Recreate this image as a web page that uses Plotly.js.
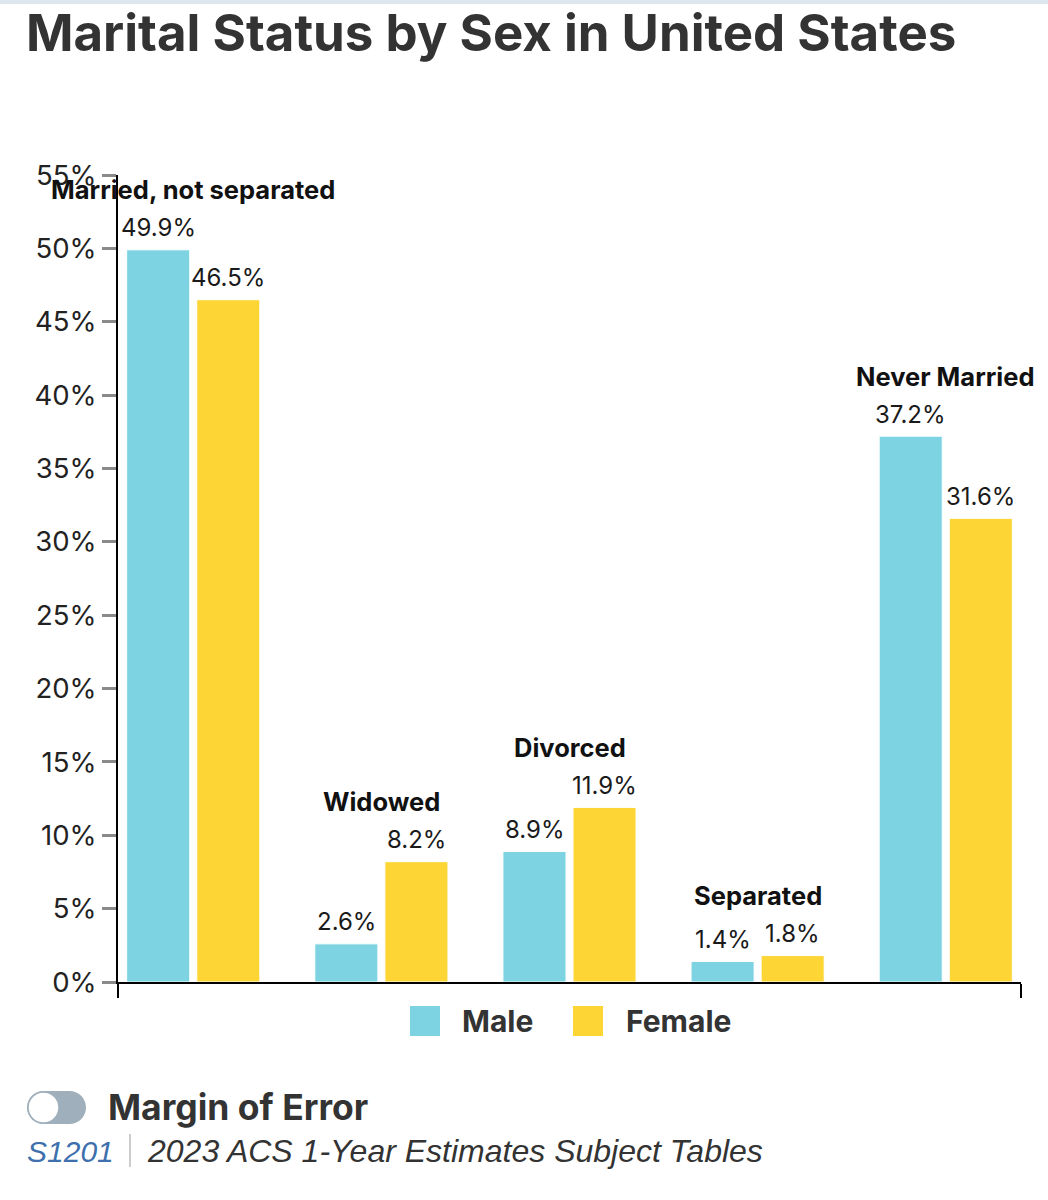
<!DOCTYPE html>
<html>
<head>
<meta charset="utf-8">
<script src="https://cdn.plot.ly/plotly-3.0.1.min.js"></script>
<style>
  html, body { margin: 0; padding: 0; background: #ffffff; }
  #chart { width: 1048px; height: 1200px; }
</style>
</head>
<body>
<div id="chart"></div>
<script>
// ---- Data ----
const categories = ["Married, not separated", "Widowed", "Divorced", "Separated", "Never Married"];
const maleValues = [49.9, 2.6, 8.9, 1.4, 37.2];
const femaleValues = [46.5, 8.2, 11.9, 1.8, 31.6];
const seriesNames = ["Male", "Female"];
const yTickValues = [0, 5, 10, 15, 20, 25, 30, 35, 40, 45, 50, 55];
const yTickLabels = ["0%", "5%", "10%", "15%", "20%", "25%", "30%", "35%", "40%", "45%", "50%", "55%"];
const chartTitle = "Marital Status by Sex in United States";
const toggleLabel = "Margin of Error";
const tableId = "S1201";
const sourceText = "2023 ACS 1-Year Estimates Subject Tables";

// ---- Styling / layout constants ----
const W = 1048, H = 1200;
const L = 118, R = 27, T = 175, B = 218;
const plotW = W - L - R, plotH = H - T - B;
const maleColor = "#7dd3e2";
const femaleColor = "#fdd535";
const FONT = "Inter, 'Noto Sans', 'DejaVu Sans', sans-serif";
const FOOT_FONT = "'Liberation Sans', Arial, sans-serif";

function px(x) { return (x - L) / plotW; }          // pixel x -> paper x
function py(y) { return (H - B - y) / plotH; }       // pixel y -> paper y

const xIdx = categories.map((c, i) => i);

const traces = [
  {
    type: "bar", name: seriesNames[0], x: xIdx, y: maleValues,
    marker: { color: maleColor, line: { color: "#ffffff", width: 1 } },
    hovertext: categories, showlegend: false
  },
  {
    type: "bar", name: seriesNames[1], x: xIdx, y: femaleValues,
    marker: { color: femaleColor, line: { color: "#ffffff", width: 1 } },
    hovertext: categories, showlegend: false
  }
];

const slotOffset = 0.186; // half slot, in category units
const annotations = [];
categories.forEach((c, i) => {
  annotations.push({
    x: i - slotOffset, y: maleValues[i], xref: "x", yref: "y",
    text: maleValues[i].toFixed(1) + "%", showarrow: false,
    yanchor: "middle", yshift: 22,
    font: { family: FONT, size: 24, color: "#1a1a1a" }
  });
  annotations.push({
    x: i + slotOffset, y: femaleValues[i], xref: "x", yref: "y",
    text: femaleValues[i].toFixed(1) + "%", showarrow: false,
    yanchor: "middle", yshift: 22,
    font: { family: FONT, size: 24, color: "#1a1a1a" }
  });
  annotations.push({
    x: i, y: Math.max(maleValues[i], femaleValues[i]), xref: "x", yref: "y",
    text: "<b>" + c + "</b>", showarrow: false,
    yanchor: "middle", yshift: 60,
    font: { family: FONT, size: 25.5, color: "#111111" }
  });
});

// Custom legend
const legendItems = [
  { label: seriesNames[0], color: maleColor, sx: 410, tx: 460 },
  { label: seriesNames[1], color: femaleColor, sx: 573, tx: 624 }
];
const shapes = [];
legendItems.forEach(it => {
  shapes.push({
    type: "rect", xref: "paper", yref: "paper",
    x0: px(it.sx), x1: px(it.sx + 30), y0: py(1036), y1: py(1006),
    fillcolor: it.color, line: { width: 0 }
  });
  annotations.push({
    xref: "paper", yref: "paper", x: px(it.tx), y: py(1021),
    xanchor: "left", yanchor: "middle", showarrow: false,
    text: "<b>" + it.label + "</b>",
    font: { family: FONT, size: 30, color: "#333333" }
  });
});

// Top border line
shapes.push({
  type: "rect", xref: "paper", yref: "paper",
  x0: px(0), x1: px(W), y0: py(4), y1: py(0),
  fillcolor: "#dfe7ee", line: { width: 0 }
});

// Toggle switch (pill)
const tY0 = 1091, tY1 = 1124, tR = (tY1 - tY0) / 2;
const pillColor = "#9fb0bc";
shapes.push({ type: "rect", xref: "paper", yref: "paper",
  x0: px(27 + tR), x1: px(86 - tR), y0: py(tY1), y1: py(tY0),
  fillcolor: pillColor, line: { width: 0 } });
shapes.push({ type: "circle", xref: "paper", yref: "paper",
  x0: px(86 - 2 * tR), x1: px(86), y0: py(tY1), y1: py(tY0),
  fillcolor: pillColor, line: { width: 0 } });
shapes.push({ type: "circle", xref: "paper", yref: "paper",
  x0: px(27), x1: px(27 + 2 * tR), y0: py(tY1), y1: py(tY0),
  fillcolor: pillColor, line: { width: 0 } });
shapes.push({ type: "circle", xref: "paper", yref: "paper",
  x0: px(28), x1: px(26 + 2 * tR), y0: py(tY1 - 1), y1: py(tY0 + 1),
  fillcolor: "#ffffff", line: { color: "#9fb0bc", width: 1.5 } });

annotations.push({
  xref: "paper", yref: "paper", x: px(106), y: py(1107),
  xanchor: "left", yanchor: "middle", showarrow: false,
  text: "<b>" + toggleLabel + "</b>",
  font: { family: FONT, size: 35.5, color: "#333333" }
});

// Footer
annotations.push({
  xref: "paper", yref: "paper", x: px(25), y: py(1151),
  xanchor: "left", yanchor: "middle", showarrow: false,
  text: "<i>" + tableId + "</i>",
  font: { family: FOOT_FONT, size: 30, color: "#3d70ad" }
});
shapes.push({ type: "line", xref: "paper", yref: "paper",
  x0: px(130), x1: px(130), y0: py(1167), y1: py(1134),
  line: { color: "#bbbbbb", width: 1.5 } });
annotations.push({
  xref: "paper", yref: "paper", x: px(145), y: py(1151),
  xanchor: "left", yanchor: "middle", showarrow: false,
  text: "<i>" + sourceText + "</i>",
  font: { family: FOOT_FONT, size: 32, color: "#333333" }
});

const layout = {
  width: W, height: H,
  margin: { l: L, r: R, t: T, b: B, pad: 0 },
  paper_bgcolor: "#ffffff", plot_bgcolor: "#ffffff",
  title: {
    text: "<b>" + chartTitle + "</b>",
    xref: "container", yref: "container",
    x: 26 / W, xanchor: "left", y: 1 - 33 / H, yanchor: "middle",
    font: { family: FONT, size: 51, color: "#333333" }
  },
  barmode: "group", bargap: 0.255, bargroupgap: 0.1,
  showlegend: false,
  xaxis: {
    type: "linear", range: [-0.4, 4.4],
    tickmode: "array", tickvals: [-0.4, 4.4], ticktext: ["", ""],
    ticks: "outside", ticklen: 14, tickwidth: 2, tickcolor: "#000000",
    showline: true, linecolor: "#000000", linewidth: 2,
    showgrid: false, zeroline: false, fixedrange: true
  },
  yaxis: {
    range: [0, 55],
    tickmode: "array", tickvals: yTickValues, ticktext: yTickLabels,
    ticks: "outside", ticklen: 14, tickwidth: 3, tickcolor: "#8a8a8a",
    showline: true, linecolor: "#000000", linewidth: 2,
    showgrid: false, zeroline: false, fixedrange: true,
    tickfont: { family: FONT, size: 27.5, color: "#222222" }
  },
  annotations: annotations,
  shapes: shapes
};

Plotly.newPlot("chart", traces, layout, { displayModeBar: false, staticPlot: true });
</script>
</body>
</html>
